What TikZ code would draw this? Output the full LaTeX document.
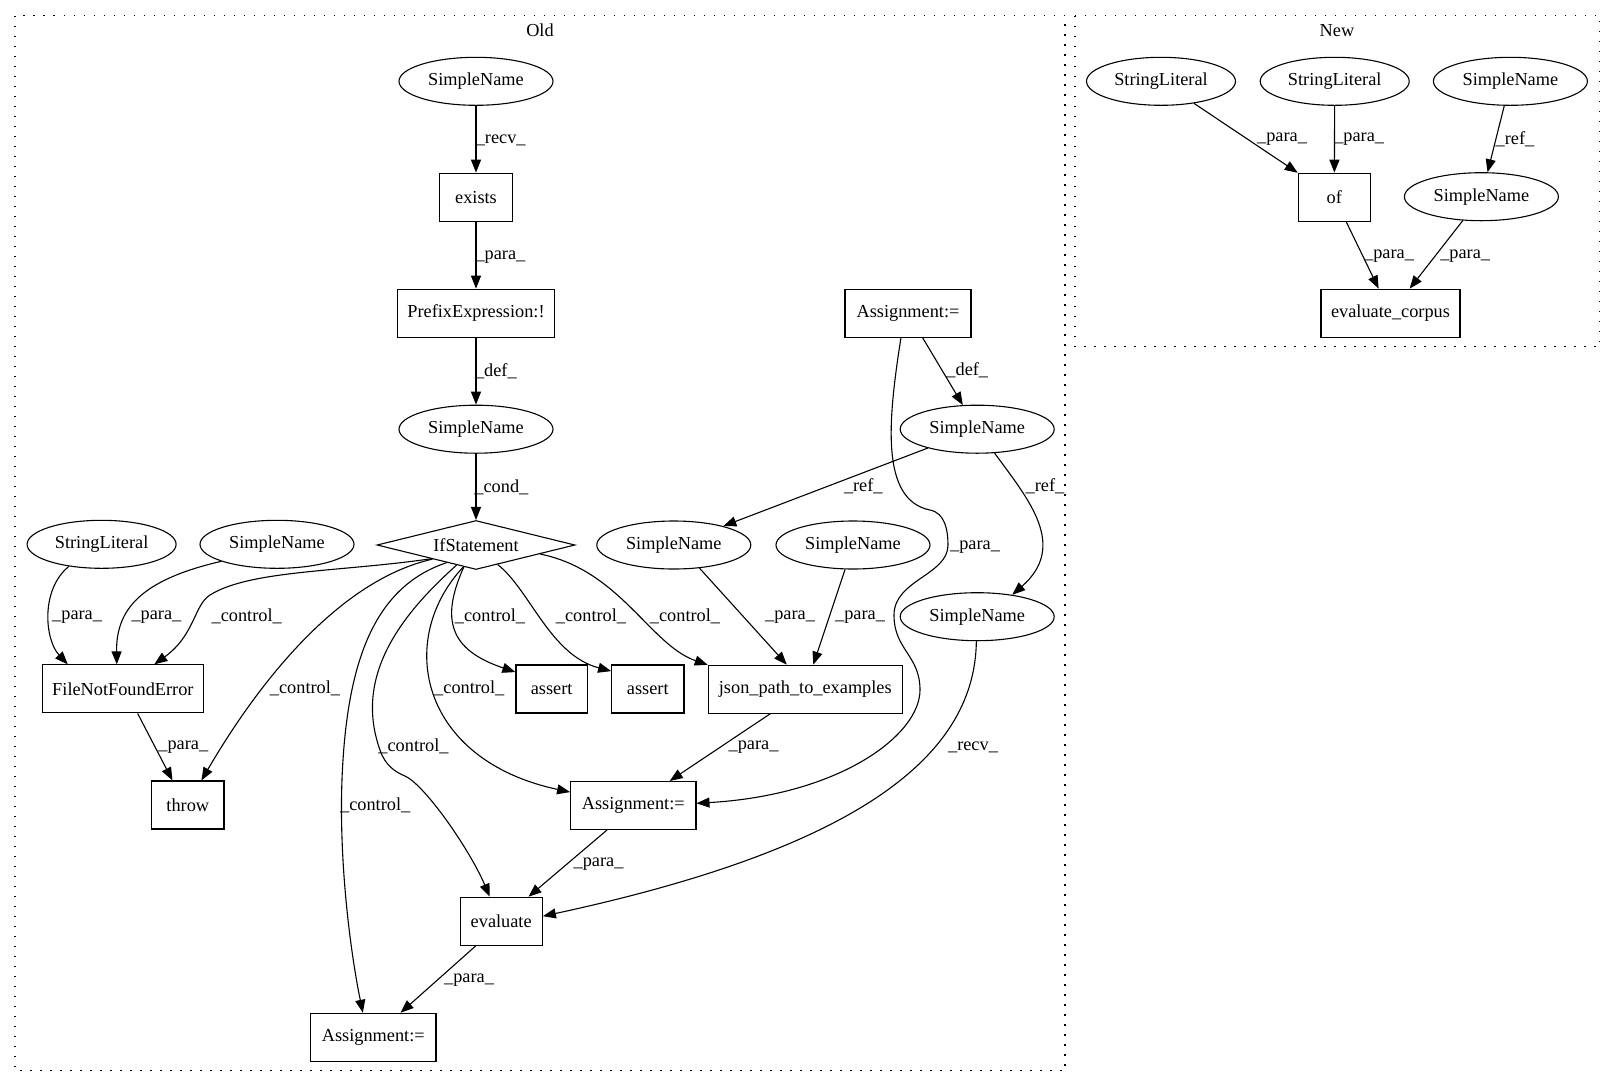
\documentclass[tikz,border=0pt]{standalone}
\usepackage{fontspec}
\setmainfont{Liberation Serif}
\usetikzlibrary{shapes.geometric,arrows.meta}
\begin{document}
\begin{tikzpicture}[x=1pt,y=-1pt,
  gv/.style={font=\fontsize{18.3pt}{22pt}\selectfont},
  ell/.style={gv,draw,ellipse,line width=1.1pt,inner sep=0pt,minimum height=48pt},
  box/.style={gv,draw,rectangle,line width=1.1pt,inner sep=0pt,minimum height=48pt},
  lab/.style={gv,inner sep=0pt},
  arr/.style={line width=1.1pt,-{Triangle[length=13pt,width=10pt]}},
  clus/.style={line width=1.1pt,dash pattern=on 1.5pt off 8.5pt}]
\useasboundingbox (0,0) rectangle (1615,1088);
% clusters
\draw[clus] (15,15.7) rectangle (1065,1070.7);
\draw[clus] (1075,15.7) rectangle (1599.5,346.7);
\node[lab] (tOld) at (540,30.7) {Old};
\node[lab] (tNew) at (1337,30.7) {New};
% Old nodes
\node[ell,minimum width=154pt] (sn1) at (476,81.3) {SimpleName};
\node[box,minimum width=72.3pt] (exists) at (476,197.2) {exists};
\node[box,minimum width=156.3pt] (prefix) at (476,313.2) {PrefixExpression:!};
\node[box,minimum width=126pt] (asg1) at (908,313.2) {Assignment:=};
\node[ell,minimum width=154pt] (sn2) at (476,429.2) {SimpleName};
\node[ell,minimum width=154pt] (snDef) at (977.2,429.2) {SimpleName};
\node[gv,draw,diamond,aspect=4,line width=1.1pt,inner sep=0pt,minimum width=198pt,minimum height=49pt] (ifs) at (476,545) {IfStatement};
\node[ell,minimum width=149pt] (sl) at (101.6,544.3) {StringLiteral};
\node[ell,minimum width=154pt] (snL) at (277,544.3) {SimpleName};
\node[ell,minimum width=154pt] (snRef) at (673.8,545) {SimpleName};
\node[ell,minimum width=154pt] (snArg) at (853,545) {SimpleName};
\node[ell,minimum width=154pt] (snRecv) at (977.2,616.7) {SimpleName};
\node[box,minimum width=160.4pt] (fnf) at (122.9,688.9) {FileNotFoundError};
\node[box,minimum width=71.5pt] (as1) at (551.7,689) {assert};
\node[box,minimum width=72.3pt] (as2) at (647.8,689) {assert};
\node[box,minimum width=194pt] (json) at (805.3,689.2) {json\_path\_to\_examples};
\node[box,minimum width=72.3pt] (throw) at (187.8,805) {throw};
\node[box,minimum width=125.3pt] (asgM) at (633.3,805.5) {Assignment:=};
\node[box,minimum width=82.3pt] (eval) at (501.2,921.3) {evaluate};
\node[box,minimum width=125.3pt] (asgB) at (373.3,1037.3) {Assignment:=};
% New nodes
\node[ell,minimum width=149pt] (sl1) at (1161,81.3) {StringLiteral};
\node[ell,minimum width=149pt] (sl2) at (1334.7,81.3) {StringLiteral};
\node[ell,minimum width=154pt] (snN) at (1510.4,81.3) {SimpleName};
\node[box,minimum width=72pt] (of) at (1334.3,197.2) {of};
\node[ell,minimum width=154pt] (snN2) at (1481.4,196.7) {SimpleName};
\node[box,minimum width=139pt] (ec) at (1390.5,313.2) {evaluate\_corpus};
% Old edges
\draw[arr] (sn1) -- (exists);
\draw[arr] (exists) -- (prefix);
\draw[arr] (prefix) -- (sn2);
\draw[arr] (sn2) -- (ifs);
\draw[arr] (asg1) -- (snDef);
\draw[arr] (snDef) -- (snRef);
\draw[arr] (snDef.306) .. controls (1029,500) and (1068,546) .. (snRecv.32);
\draw[arr] (asg1.254) .. controls (888,420) and (880,500) .. (930,510)
  .. controls (945,513) and (948,530) .. (948,545)
  .. controls (948,575) and (894,580) .. (894,615)
  .. controls (894,650) and (920,655) .. (920,690)
  .. controls (920,735) and (840,795) .. (asgM.2);
\draw[arr] (snRef.318) -- (json.127);
\draw[arr] (snArg.252) -- (json.72);
\draw[arr] (json.215) -- (asgM.34);
\draw[arr] (asgM.223) -- (eval.42);
\draw[arr] (eval.224) -- (asgB.42);
\draw[arr] (snRecv.268) .. controls (975,760) and (850,850) .. (eval.7);
\draw[arr] (sl.214) .. controls (40,590) and (45,640) .. (fnf.156);
\draw[arr] (snL.197) .. controls (140,580) and (116,610) .. (fnf.104);
\draw[arr] (ifs.197) .. controls (340,572) and (250,570) .. (210,595)
  .. controls (194,605) and (195,635) .. (fnf.38);
\draw[arr] (ifs.198) .. controls (340,580) and (260,680) .. (throw.61);
\draw[arr] (ifs.211) .. controls (380,585) and (350,650) .. (343,760)
  .. controls (337,850) and (350,950) .. (asgB.113);
\draw[arr] (ifs.226) .. controls (395,620) and (355,680) .. (380,750)
  .. controls (385,765) and (395,772) .. (405,776)
  .. controls (425,785) and (470,850) .. (eval.115);
\draw[arr] (ifs.240) .. controls (395,640) and (420,760) .. (asgM.168);
\draw[arr] (ifs.241) .. controls (440,620) and (450,650) .. (as1.155);
\draw[arr] (ifs.318) .. controls (530,590) and (550,655) .. (as2.154);
\draw[arr] (ifs.352) .. controls (620,570) and (650,645) .. (json.166);
\draw[arr] (fnf.301) -- (throw.122);
% New edges
\draw[arr] (sl1) -- (of);
\draw[arr] (sl2) -- (of);
\draw[arr] (snN) -- (snN2);
\draw[arr] (of) -- (ec);
\draw[arr] (snN2) -- (ec);
% Old labels
\node[lab] (l1) at (500.7,140) {\_recv\_};
\node[lab] (l2) at (500.4,256.7) {\_para\_};
\node[lab] (l3) at (495.9,371.7) {\_def\_};
\node[lab] (l4) at (501.4,487.7) {\_cond\_};
\node[lab] (l5) at (967.3,370.7) {\_def\_};
\node[lab] (l6) at (863.3,486.7) {\_ref\_};
\node[lab] (l7) at (1045,486.7) {\_ref\_};
\node[lab] (l8) at (975,546.7) {\_para\_};
\node[lab] (l9) at (77.1,617.3) {\_para\_};
\node[lab] (l10) at (156.4,617.3) {\_para\_};
\node[lab] (l11) at (246.7,616.7) {\_control\_};
\node[lab] (l12) at (490,616.7) {\_control\_};
\node[lab] (l13) at (591,616.7) {\_control\_};
\node[lab] (l14) at (685,616.7) {\_control\_};
\node[lab] (l15) at (790,616.7) {\_para\_};
\node[lab] (l16) at (860,616.7) {\_para\_};
\node[lab] (l17) at (305,688.3) {\_control\_};
\node[lab] (l18) at (469.3,688.3) {\_control\_};
\node[lab] (l19) at (183.3,746.7) {\_para\_};
\node[lab] (l20) at (413.5,746.7) {\_control\_};
\node[lab] (l21) at (753.5,747.5) {\_para\_};
\node[lab] (l22) at (973,747.5) {\_recv\_};
\node[lab] (l23) at (375.2,805.5) {\_control\_};
\node[lab] (l24) at (598.5,864.5) {\_para\_};
\node[lab] (l25) at (469,980) {\_para\_};
% New labels
\node[lab] (n1) at (1282,139.3) {\_para\_};
\node[lab] (n2) at (1359.2,139.3) {\_para\_};
\node[lab] (n3) at (1515,139.3) {\_ref\_};
\node[lab] (n4) at (1389,255.7) {\_para\_};
\node[lab] (n5) at (1465.2,255.7) {\_para\_};
\end{tikzpicture}
\end{document}
